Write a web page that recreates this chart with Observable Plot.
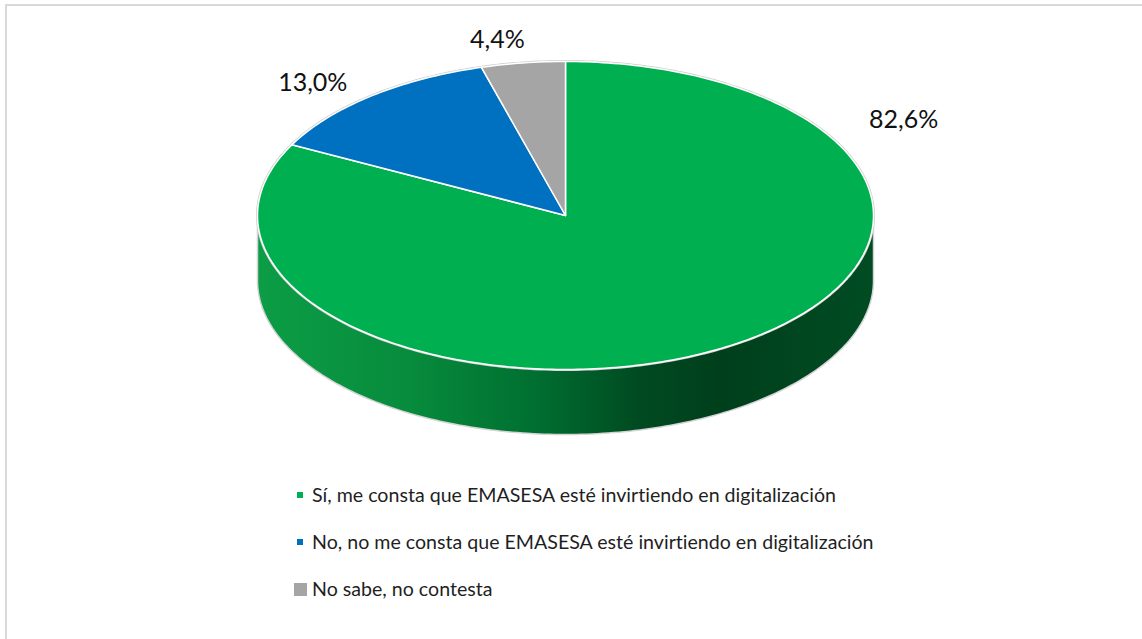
<!DOCTYPE html>
<html>
<head>
<meta charset="utf-8">
<script src="https://cdn.jsdelivr.net/npm/d3@7"></script>
<script src="https://cdn.jsdelivr.net/npm/@observablehq/plot@0.6"></script>
<style>
  html, body { margin: 0; padding: 0; background: #fff; }
  #wrap { position: relative; width: 1142px; height: 639px; overflow: hidden; font-family: Lato, "Open Sans", sans-serif; font-variant-ligatures: none; }
  #frame { position: absolute; left: 5px; top: 4px; width: 1200px; height: 700px; border-left: 2px solid #d9d9d9; border-top: 2px solid #d9d9d9; box-sizing: border-box; }
  #chart { position: absolute; left: 0; top: 0; }
  #chart text { font-variant-ligatures: none; }
  #legend { position: absolute; left: 294px; top: 480px; font-size: 19.6px; color: #1f1f1f; }
  .item { position: relative; height: 47px; line-height: 30px; padding-left: 18px; white-space: nowrap; }
  .sw { position: absolute; left: 3px; top: 12px; width: 6px; height: 6px; }
  .sw.big { left: 0; top: 9px; width: 13px; height: 13px; }
</style>
</head>
<body>
<div id="wrap">
  <div id="frame"></div>
  <div id="chart"></div>
  <div id="legend"></div>
</div>
<script>
// ---- data ----
const categories = [
  "Sí, me consta que EMASESA esté invirtiendo en digitalización",
  "No, no me consta que EMASESA esté invirtiendo en digitalización",
  "No sabe, no contesta"
];
const values = [82.6, 13.0, 4.4];
const labels = ["82,6%", "13,0%", "4,4%"];
const colors = ["#00B050", "#0070C0", "#A5A5A5"];

// label placement (angle in degrees clockwise from top, radius in pie units)
const labelAngle = [60.6, 316.4, 349];
const labelRadius = [1.26, 1.19, 1.16];

// ---- geometry (layout) ----
const geom = {cx: 565, cy: 215, rx: 308, ry: 154, depth: 65};
const d = geom.depth / geom.ry;
const rad = a => a * Math.PI / 180;

const total = d3.sum(values);
let acc = 0;
const slices = values.map((v, i) => {
  const a0 = acc / total * 360; acc += v; const a1 = acc / total * 360;
  return {cat: categories[i], a0, a1};
});

const topPts = [];
slices.forEach(s => {
  topPts.push({cat: s.cat, x: 0, y: 0});
  const n = Math.max(2, Math.ceil(s.a1 - s.a0));
  for (let k = 0; k <= n; k++) {
    const a = rad(s.a0 + (s.a1 - s.a0) * k / n);
    topPts.push({cat: s.cat, x: Math.sin(a), y: Math.cos(a)});
  }
});

const rim = d3.range(0, 361, 1).map(t => ({x: Math.sin(rad(t)), y: Math.cos(rad(t))}));

// front side of the green slice (visible from 90° to 270°)
const sideTop = d3.range(90, 271, 1).map(t => ({x: Math.sin(rad(t)), y: Math.cos(rad(t))}));
const sidePts = sideTop.concat(sideTop.slice().reverse().map(p => ({x: p.x, y: p.y - d})));

const labelData = labels.map((l, i) => ({
  label: l,
  x: labelRadius[i] * Math.sin(rad(labelAngle[i])),
  y: labelRadius[i] * Math.cos(rad(labelAngle[i]))
}));

const chart = Plot.plot({
  width: 1142,
  height: 639,
  margin: 0,
  x: {domain: [-1, 1], range: [geom.cx - geom.rx, geom.cx + geom.rx], axis: null},
  y: {domain: [-1, 1], range: [geom.cy + geom.ry, geom.cy - geom.ry], axis: null},
  color: {domain: categories, range: colors},
  style: {background: "transparent", overflow: "visible"},
  marks: [
    Plot.line(sidePts, {x: "x", y: "y", curve: "linear-closed", fill: "url(#sideGrad)", stroke: "#d4d4d4", strokeWidth: 1.5}),
    Plot.line(rim, {x: "x", y: "y", curve: "linear-closed", fill: "none", stroke: "#cfcfcf", strokeWidth: 3}),
    Plot.line(topPts, {x: "x", y: "y", z: "cat", fill: "cat", curve: "linear-closed", stroke: "#ffffff", strokeWidth: 1.5, strokeLinejoin: "round"}),
    Plot.text(labelData, {x: "x", y: "y", text: "label", fontSize: 25, fontFamily: "Lato, 'Open Sans', sans-serif", fill: "#111111"})
  ]
});

// gradient for the side face
const ns = "http://www.w3.org/2000/svg";
const defs = document.createElementNS(ns, "defs");
const grad = document.createElementNS(ns, "linearGradient");
grad.setAttribute("id", "sideGrad");
grad.setAttribute("x1", "0"); grad.setAttribute("x2", "1");
grad.setAttribute("y1", "0"); grad.setAttribute("y2", "0");
[["0", "#0c9d46"], ["0.25", "#078b3c"], ["0.45", "#006f31"], ["0.62", "#004a21"], ["0.75", "#003f1c"], ["1", "#004c22"]].forEach(([o, c]) => {
  const st = document.createElementNS(ns, "stop");
  st.setAttribute("offset", o); st.setAttribute("stop-color", c);
  grad.appendChild(st);
});
defs.appendChild(grad);
chart.insertBefore(defs, chart.firstChild);
document.getElementById("chart").appendChild(chart);

// legend
const legend = document.getElementById("legend");
categories.forEach((c, i) => {
  const item = document.createElement("div");
  item.className = "item";
  const sw = document.createElement("span");
  sw.className = "sw" + (i === 2 ? " big" : "");
  sw.style.background = colors[i];
  item.appendChild(sw);
  item.appendChild(document.createTextNode(c));
  legend.appendChild(item);
});
</script>
</body>
</html>
